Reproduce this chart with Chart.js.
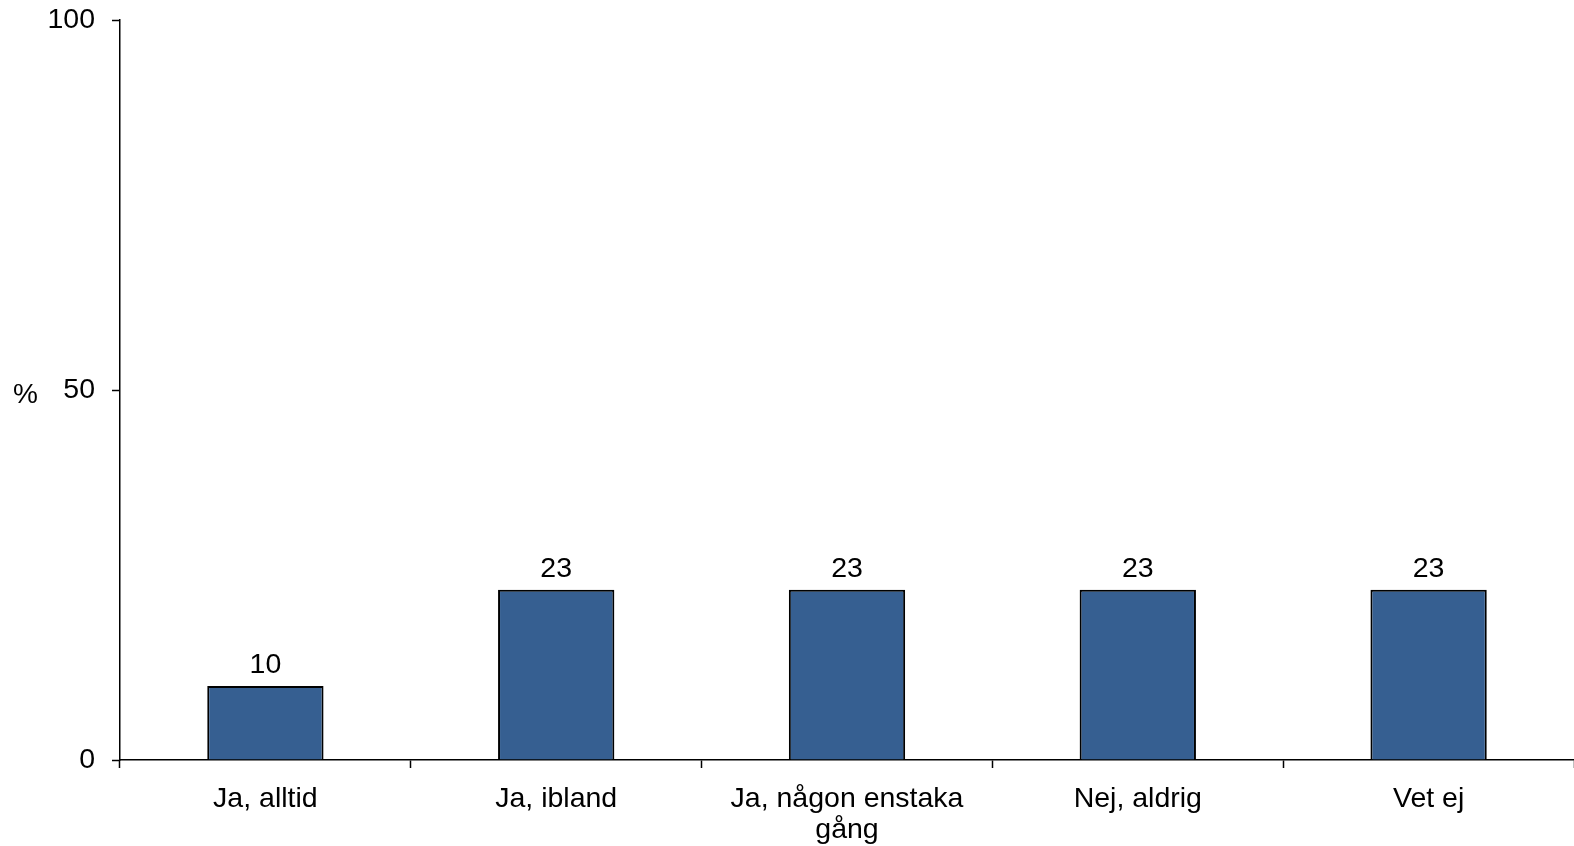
<!DOCTYPE html>
<html>
<head>
<meta charset="utf-8">
<script src="https://cdn.jsdelivr.net/npm/chart.js@4/dist/chart.umd.min.js"></script>
<style>
  body { margin: 0; background: #fff; }
  #wrap { width: 1574px; height: 846px; }
</style>
</head>
<body>
<div id="wrap"><canvas id="myChart"></canvas></div>
<script>
var categories = ["Ja, alltid", "Ja, ibland", ["Ja, någon enstaka", "gång"], "Nej, aldrig", "Vet ej"];
var values = [10, 23, 23, 23, 23];
var yTicks = [0, 50, 100];
var yUnit = "%";

var fontFamily = "'Liberation Sans', Arial, sans-serif";

// value labels above the bars
var barLabels = {
  id: 'barLabels',
  afterDatasetsDraw: function (chart) {
    var ctx = chart.ctx;
    var meta = chart.getDatasetMeta(0);
    ctx.save();
    ctx.font = "28.5px " + fontFamily;
    ctx.fillStyle = "#000";
    ctx.textAlign = "center";
    ctx.textBaseline = "alphabetic";
    meta.data.forEach(function (bar, i) {
      ctx.fillText(values[i], bar.x, bar.y - 13);
    });
    ctx.restore();
  }
};

// "%" unit left of the y axis
var unitLabel = {
  id: 'unitLabel',
  afterDraw: function (chart) {
    var ctx = chart.ctx;
    var y = chart.scales.y.getPixelForValue(50);
    ctx.save();
    ctx.font = "28px " + fontFamily;
    ctx.fillStyle = "#000";
    ctx.textAlign = "left";
    ctx.textBaseline = "middle";
    ctx.fillText(yUnit, 13, y + 5);
    ctx.restore();
  }
};

var ctx = document.getElementById("myChart").getContext('2d');
var myChart = new Chart(ctx, {
  type: 'bar',
  data: {
    labels: categories,
    datasets: [{
      data: values,
      backgroundColor: '#365f91',
      borderColor: '#000',
      borderWidth: 2,
      categoryPercentage: 0.4,
      barPercentage: 1.0
    }]
  },
  options: {
    responsive: true,
    maintainAspectRatio: false,
    animation: false,
    layout: { padding: { top: 20, right: 0, left: 0, bottom: 0 } },
    plugins: {
      legend: { display: false },
      tooltip: { enabled: false }
    },
    scales: {
      x: {
        offset: true,
        grid: {
          offset: true,
          drawOnChartArea: false,
          drawTicks: true,
          tickLength: 8,
          tickColor: '#000',
          tickWidth: 1.5
        },
        border: { color: '#000', width: 1.5 },
        ticks: {
          color: '#000',
          padding: 16,
          maxRotation: 0,
          autoSkip: false,
          font: { family: fontFamily, size: 28.5, lineHeight: 1.08 }
        },
        afterFit: function (scale) { scale.height = 86; }
      },
      y: {
        min: 0,
        max: 100,
        afterBuildTicks: function (scale) {
          scale.ticks = yTicks.map(function (v) { return { value: v }; });
        },
        grid: {
          drawOnChartArea: false,
          drawTicks: true,
          tickLength: 8,
          tickColor: '#000',
          tickWidth: 1.5
        },
        border: { color: '#000', width: 1.5 },
        ticks: {
          color: '#000',
          padding: 17,
          font: { family: fontFamily, size: 28.5 }
        },
        afterFit: function (scale) {
          scale.width = 120;
          scale.paddingTop = 0;
          scale.paddingBottom = 0;
        }
      }
    }
  },
  plugins: [barLabels, unitLabel]
});
</script>
</body>
</html>
